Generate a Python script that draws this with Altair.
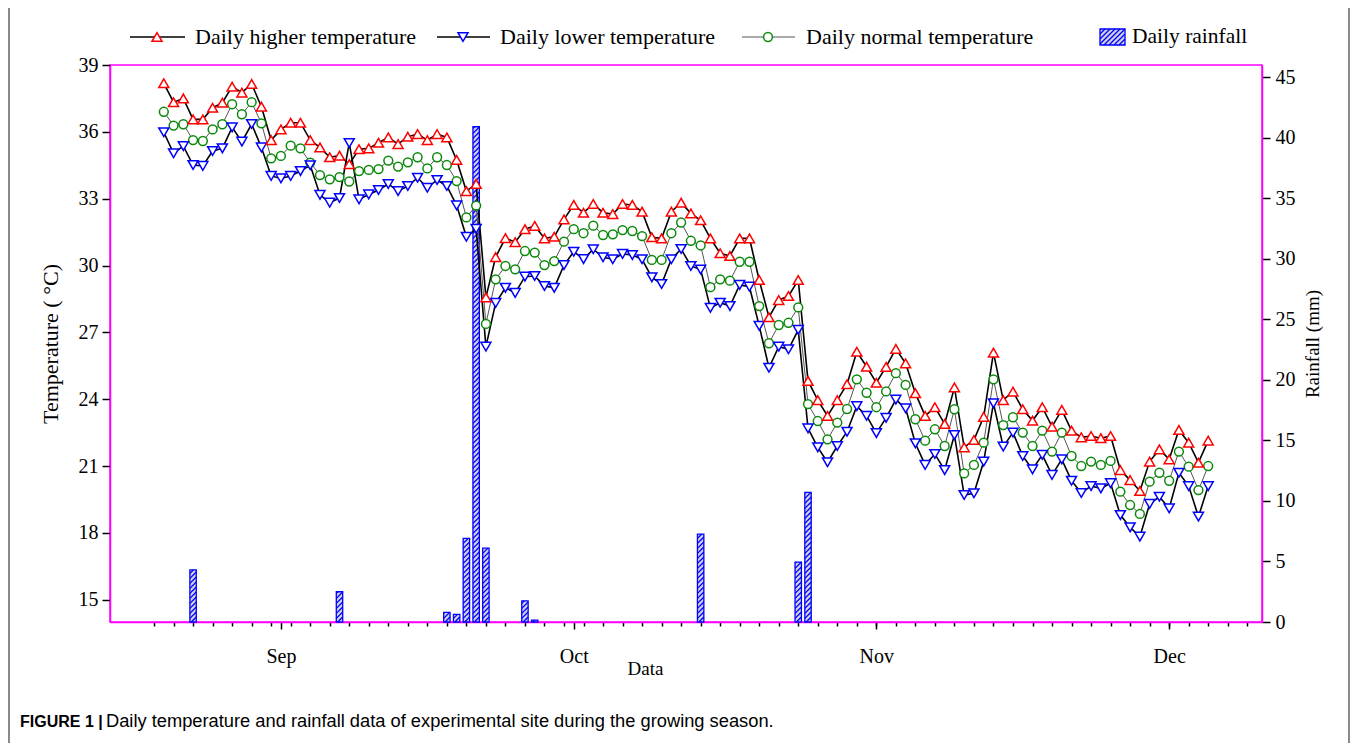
import altair as alt
import pandas as pd

# ---------------- data ----------------
start_date = "2019-08-20"
high = [38.18, 37.33, 37.5, 36.56, 36.56, 37.08, 37.31, 38.03, 37.76, 38.15,
        37.13, 35.63, 36.11, 36.41, 36.41, 35.63, 35.3, 34.86, 34.93, 34.55,
        35.22, 35.26, 35.51, 35.75, 35.45, 35.78, 35.9, 35.63, 35.9, 35.75,
        34.74, 33.34, 33.66, 28.57, 30.38, 31.23, 31.05, 31.63, 31.78, 31.22,
        31.29, 32.07, 32.72, 32.37, 32.76, 32.37, 32.31, 32.76, 32.72, 32.42,
        31.27, 31.22, 32.42, 32.82, 32.34, 32.03, 31.22, 30.55, 30.43, 31.22,
        31.22, 29.35, 27.68, 28.45, 28.63, 29.35, 24.82, 23.96, 23.25, 23.96,
        24.67, 26.13, 25.46, 24.74, 25.45, 26.26, 25.61, 24.27, 23.25, 23.64,
        22.89, 24.53, 21.84, 22.17, 23.21, 26.09, 23.96, 24.34, 23.55, 23.04,
        23.64, 22.77, 23.52, 22.59, 22.29, 22.35, 22.25, 22.35, 20.82, 20.37,
        19.88, 21.2, 21.75, 21.3, 22.62, 22.05, 21.15, 22.14]
normal = [36.9, 36.28, 36.34, 35.63, 35.59, 36.11, 36.34, 37.24, 36.79, 37.33,
          36.38, 34.81, 34.92, 35.38, 35.26, 34.62, 34.06, 33.87, 33.97, 33.77,
          34.24, 34.29, 34.33, 34.71, 34.44, 34.63, 34.86, 34.36, 34.86, 34.51,
          33.79, 32.16, 32.69, 27.38, 29.38, 29.98, 29.83, 30.65, 30.58, 30.02,
          30.2, 31.07, 31.63, 31.45, 31.79, 31.37, 31.4, 31.59, 31.55, 31.32,
          30.25, 30.25, 31.45, 31.93, 31.11, 30.9, 29.03, 29.38, 29.32, 30.17,
          30.17, 28.18, 26.51, 27.33, 27.43, 28.12, 23.78, 23.02, 22.2, 22.95,
          23.56, 24.89, 24.29, 23.64, 24.35, 25.17, 24.64, 23.1, 22.14, 22.65,
          21.9, 23.55, 20.67, 21.05, 22.05, 24.89, 22.84, 23.19, 22.5, 21.9,
          22.59, 21.65, 22.5, 21.45, 21.0, 21.2, 21.05, 21.23, 19.85, 19.25,
          18.85, 20.3, 20.7, 20.34, 21.65, 20.97, 19.92, 21.0]
low = [35.98, 35.04, 35.36, 34.51, 34.47, 35.14, 35.26, 36.2, 35.56, 36.35,
       35.3, 34.02, 33.91, 34.02, 34.24, 34.5, 33.17, 32.82, 33.03, 35.5,
       32.97, 33.19, 33.39, 33.66, 33.34, 33.57, 33.94, 33.49, 33.84, 33.57,
       32.7, 31.29, 31.65, 26.36, 28.32, 29.0, 28.77, 29.5, 29.53, 29.08,
       29.0, 30.02, 30.62, 30.29, 30.73, 30.37, 30.28, 30.52, 30.47, 30.28,
       29.47, 29.17, 30.28, 30.74, 29.98, 29.82, 28.1, 28.33, 28.18, 29.13,
       29.05, 27.29, 25.41, 26.36, 26.24, 27.11, 22.69, 21.84, 21.17, 21.9,
       22.54, 23.69, 23.25, 22.48, 23.16, 23.98, 23.59, 22.02, 21.05, 21.54,
       20.82, 22.39, 19.7, 19.78, 21.2, 23.82, 21.87, 22.5, 21.45, 20.85,
       21.5, 20.6, 21.3, 20.34, 19.79, 20.1, 20.0, 20.23, 18.8, 18.25,
       17.83, 19.3, 19.62, 19.1, 20.7, 20.1, 18.73, 20.1]
rain_dates = ["2019-08-23", "2019-09-07", "2019-09-18", "2019-09-19", "2019-09-20",
              "2019-09-21", "2019-09-22", "2019-09-26", "2019-09-27", "2019-10-14",
              "2019-10-24", "2019-10-25"]
rain_mm = [4.3, 2.5, 0.8, 0.63, 6.9, 40.9, 6.1, 1.75, 0.15, 7.25, 4.95, 10.7]

month_ticks = ["2019-09-01", "2019-10-01", "2019-11-01", "2019-12-01"]
temp_ticks = [15, 18, 21, 24, 27, 30, 33, 36, 39]
rain_ticks = [0, 5, 10, 15, 20, 25, 30, 35, 40, 45]
legend_labels = ["Daily higher temperature", "Daily lower temperature",
                 "Daily normal temperature", "Daily rainfall"]
caption_bold = "FIGURE 1 |"
caption_text = "Daily temperature and rainfall data of experimental site during the growing season."

# ---------------- helpers ----------------
def ms(d):
    return int(pd.Timestamp(d, tz="UTC").value // 10**6)

W, H = 1152, 557
X0, X1 = "2019-08-15", "2019-12-10"
T_DOM = [14, 39]
R_DOM = [0, 46]
MS_PER_PX = (ms(X1) - ms(X0)) / W
MM_PER_PX = (R_DOM[1] - R_DOM[0]) / H

dates = pd.date_range(start_date, periods=len(high), freq="D").strftime("%Y-%m-%d").tolist()
df_high = pd.DataFrame({"date": dates, "temp": high})
df_norm = pd.DataFrame({"date": dates, "temp": normal})
df_low = pd.DataFrame({"date": dates, "temp": low})
df_rain = pd.DataFrame({"date": rain_dates, "mm": rain_mm})

# hatch segments derived from each bar's value (45 degree "/" lines)
HW = 3.2     # half bar width in px
STEP = 5.0   # vertical spacing of hatch lines in px
hatch_rows = []
for d, v in zip(rain_dates, rain_mm):
    top = v / MM_PER_PX
    c = ms(d)
    y0 = -2 * HW
    while y0 < top:
        t_lo = max(0.0, -y0 / (2 * HW))
        t_hi = min(1.0, (top - y0) / (2 * HW))
        if t_hi > t_lo:
            xa, ya = -HW + t_lo * 2 * HW, y0 + t_lo * 2 * HW
            xb, yb = -HW + t_hi * 2 * HW, y0 + t_hi * 2 * HW
            hatch_rows.append({"xa": c + xa * MS_PER_PX, "xb": c + xb * MS_PER_PX,
                               "ya": ya * MM_PER_PX, "yb": yb * MM_PER_PX})
        y0 += STEP
df_hatch = pd.DataFrame(hatch_rows)

minor_ticks = [ms(d) for d in pd.date_range("2019-08-19", X1, freq="2D")]
major_ticks = [ms(d) for d in month_ticks]

SERIF = "Liberation Serif"
SANS = "Liberation Sans"
MAG = "#ff00ff"
RED = "#ff0000"
BLUE = "#0000ff"
GREEN = "#0a8a0a"
BARBG = "#cfd0da"

x_scale = alt.Scale(type="utc", domain=[ms(X0), ms(X1)])
t_scale = alt.Scale(domain=T_DOM, nice=False, zero=False)
r_scale = alt.Scale(domain=R_DOM, nice=False)

major_axis = alt.Axis(orient="bottom", values=major_ticks,
                      labelExpr="utcFormat(datum.value, '%b')", tickSize=7,
                      tickColor="black", tickWidth=1.5, domainColor=MAG, domainWidth=1.5,
                      labelFont=SERIF, labelFontSize=20, labelColor="black", labelPadding=17,
                      labelFlush=False, grid=False, title="Data", titleFont=SERIF,
                      titleFontSize=19, titleFontWeight="normal", titleColor="black",
                      titleX=535, titleY=46, titleBaseline="middle", titleAlign="center")
minor_axis = alt.Axis(orient="bottom", values=minor_ticks, labels=False, domain=False,
                      tickSize=4, tickColor="black", tickWidth=1.5, grid=False, title="")
left_axis = alt.Axis(orient="left", values=temp_ticks, tickSize=8, tickColor="black",
                     tickWidth=1.5, domainColor=MAG, domainWidth=1.5, labelFont=SERIF,
                     labelFontSize=20, labelColor="black", labelPadding=4, grid=False,
                     title="Temperature ( °C)", titleFont=SERIF, titleFontSize=22,
                     titleFontWeight="normal", titleColor="black", titleAngle=270,
                     titleX=-60, titleY=H / 2, titleAlign="center", titleBaseline="middle")
right_axis = alt.Axis(orient="right", values=rain_ticks, tickSize=8, tickColor="black",
                      tickWidth=1.5, domainColor=MAG, domainWidth=1.5, labelFont=SERIF,
                      labelFontSize=20, labelColor="black", labelPadding=5, grid=False,
                      title="Rainfall (mm)", titleFont=SERIF, titleFontSize=19,
                      titleFontWeight="normal", titleColor="black", titleAngle=270,
                      titleX=50, titleY=H / 2, titleAlign="center", titleBaseline="middle")

# ---------------- rainfall bars (hatched) ----------------
bar_bg = alt.Chart(df_rain).mark_bar(width=2 * HW, fill=BARBG, strokeWidth=0).encode(
    x=alt.X("date:T", scale=x_scale, axis=minor_axis),
    y=alt.Y("mm:Q", scale=r_scale, axis=right_axis),
)
bar_hatch = alt.Chart(df_hatch).mark_rule(color=BLUE, strokeWidth=1.3).encode(
    x=alt.X("xa:T", scale=x_scale, axis=minor_axis), x2="xb:T",
    y=alt.Y("ya:Q", scale=r_scale, axis=right_axis), y2="yb:Q",
)
bar_edge = alt.Chart(df_rain).mark_bar(width=2 * HW, fillOpacity=0, stroke=BLUE,
                                       strokeWidth=1.3).encode(
    x=alt.X("date:T", scale=x_scale, axis=minor_axis),
    y=alt.Y("mm:Q", scale=r_scale, axis=right_axis),
)
rain = alt.layer(bar_bg, bar_hatch, bar_edge)

# ---------------- temperature series ----------------
def line(df, color, width):
    return alt.Chart(df).mark_line(color=color, strokeWidth=width).encode(
        x=alt.X("date:T", scale=x_scale, axis=major_axis),
        y=alt.Y("temp:Q", scale=t_scale, axis=left_axis),
    )

def pts(df, shape, color, size):
    return alt.Chart(df).mark_point(shape=shape, size=size, filled=True, fill="white",
                                    stroke=color, strokeWidth=1.5, opacity=1).encode(
        x=alt.X("date:T", scale=x_scale, axis=major_axis),
        y=alt.Y("temp:Q", scale=t_scale, axis=left_axis),
    )

temps = alt.layer(
    line(df_norm, "#555555", 1),
    line(df_high, "black", 1.6),
    line(df_low, "black", 1.6),
    pts(df_norm, "circle", GREEN, 78),
    pts(df_low, "triangle-down", BLUE, 100),
    pts(df_high, "triangle-up", RED, 100),
)

# ---------------- legend, caption & page frame (decoration) ----------------
one = pd.DataFrame({"k": [0]})
ox, oy = 110, 65   # page position of the plot origin
ly = 37 - oy
deco = []
leg = [(130, 185, 157, "triangle-up", RED, "black", 1.6, 195),
       (437, 490, 463, "triangle-down", BLUE, "black", 1.6, 500),
       (742, 795, 768, "circle", GREEN, "#555555", 1, 806)]
for (x1, x2, xm, shp, col, lcol, lw, tx), lab in zip(leg, legend_labels[:3]):
    deco.append(alt.Chart(one).mark_rule(color=lcol, strokeWidth=lw).encode(
        x=alt.value(x1 - ox), x2=alt.value(x2 - ox), y=alt.value(ly)))
    deco.append(alt.Chart(one).mark_point(shape=shp, size=78 if shp == "circle" else 100,
                                          filled=True, fill="white", stroke=col,
                                          strokeWidth=1.5, opacity=1).encode(
        x=alt.value(xm - ox), y=alt.value(ly)))
    deco.append(alt.Chart(one).mark_text(text=lab, font=SERIF, fontSize=22, align="left",
                                         baseline="middle", color="black").encode(
        x=alt.value(tx - ox), y=alt.value(ly)))
# legend swatch for rainfall, hatched
rx1, rx2, ry1, ry2 = 1100, 1125, 29, 45
deco.append(alt.Chart(one).mark_rect(fill=BARBG).encode(
    x=alt.value(rx1 - ox), x2=alt.value(rx2 - ox), y=alt.value(ry1 - oy), y2=alt.value(ry2 - oy)))
hs = ry2 - ry1
k = rx1 - hs
while k < rx2:
    a_x, a_y = k, ry2
    b_x, b_y = k + hs, ry1
    if a_x < rx1:
        a_y -= (rx1 - a_x); a_x = rx1
    if b_x > rx2:
        b_y += (b_x - rx2); b_x = rx2
    if b_x > a_x:
        deco.append(alt.Chart(one).mark_rule(color=BLUE, strokeWidth=1.3).encode(
            x=alt.value(a_x - ox), x2=alt.value(b_x - ox),
            y=alt.value(a_y - oy), y2=alt.value(b_y - oy)))
    k += 5
deco.append(alt.Chart(one).mark_rect(fillOpacity=0, stroke=BLUE, strokeWidth=1.3).encode(
    x=alt.value(rx1 - ox), x2=alt.value(rx2 - ox), y=alt.value(ry1 - oy), y2=alt.value(ry2 - oy)))
deco.append(alt.Chart(one).mark_text(text=legend_labels[3], font=SERIF, fontSize=21.5,
                                     align="left", baseline="middle", color="black").encode(
    x=alt.value(1132 - ox), y=alt.value(ly)))
deco.append(alt.Chart(one).mark_text(text=caption_bold, font=SANS, fontSize=16,
                                     fontWeight="bold", align="left", baseline="middle",
                                     color="black").encode(
    x=alt.value(20 - ox), y=alt.value(722 - oy)))
deco.append(alt.Chart(one).mark_text(text=caption_text, font=SANS, fontSize=18.3,
                                     align="left", baseline="middle", color="black").encode(
    x=alt.value(106 - ox), y=alt.value(722 - oy)))
# gray page edges left and right
for fx in (9, 1349):
    deco.append(alt.Chart(one).mark_rule(color="#8a8a8a", strokeWidth=2).encode(
        x=alt.value(fx - ox), y=alt.value(8 - oy), y2=alt.value(743 - oy)))

chart = alt.layer(rain, temps, *deco).resolve_scale(y="independent").resolve_axis(
    x="independent"
).properties(
    width=W, height=H,
    autosize=alt.AutoSizeParams(type="none"),
    padding={"left": 102, "top": 57, "right": 88, "bottom": 121},
    background="white",
).configure_view(stroke=MAG, strokeWidth=1.5)

chart.save("out.html", embed_options={"renderer": "svg", "actions": False})
